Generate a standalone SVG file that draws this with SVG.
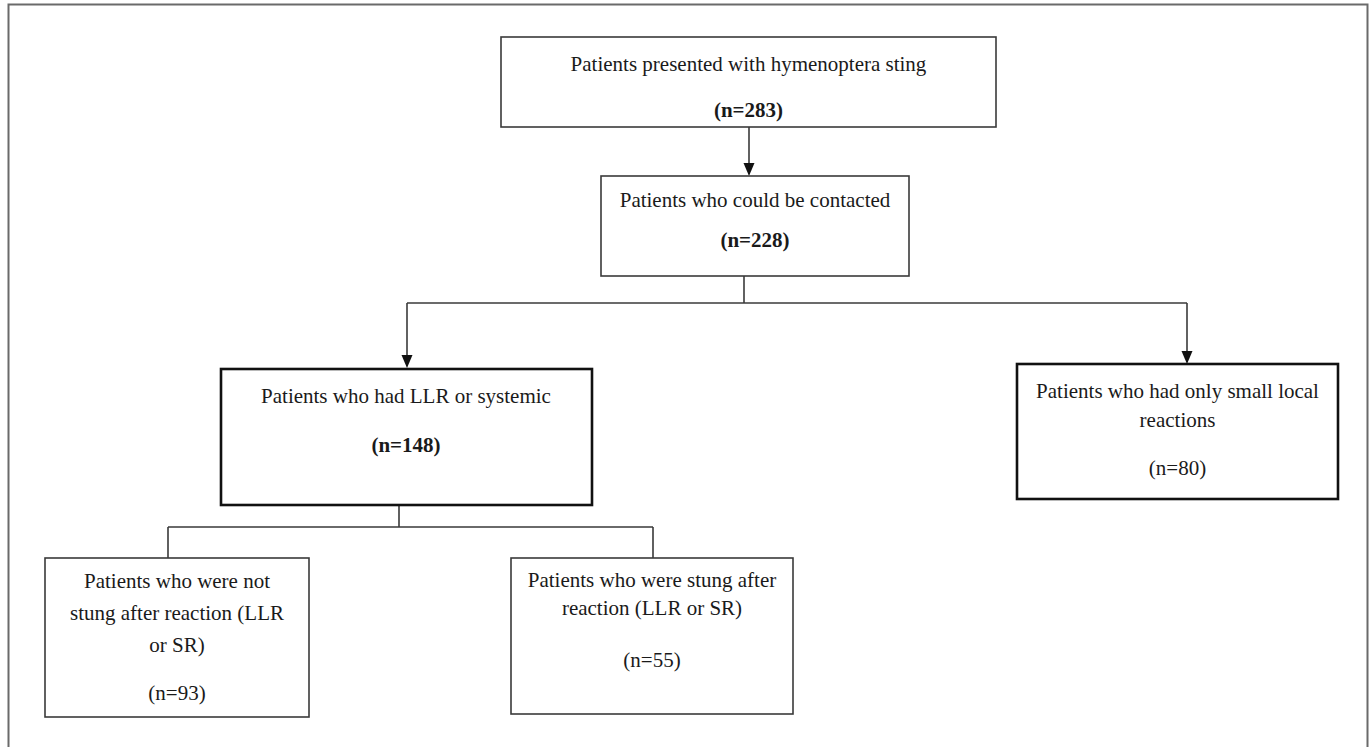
<svg xmlns="http://www.w3.org/2000/svg" width="1369" height="747" viewBox="0 0 1369 747">
<style>
  text { font-family: "Liberation Serif", "Times New Roman", serif; font-size: 21px; fill: #1a1a1a; text-anchor: middle; }
  .b { font-weight: bold; }
  .thin { fill: #ffffff; stroke: #3a3a3a; stroke-width: 1.6; }
  .thick { fill: #ffffff; stroke: #111111; stroke-width: 2.6; }
  .conn { fill: none; stroke: #3a3a3a; stroke-width: 1.6; }
  .head { fill: #111111; }
  .frame { fill: none; stroke: #6a6a6a; stroke-width: 2; }
</style>
<rect width="1369" height="747" fill="#ffffff"/>
<path class="frame" d="M8.5,747 V4.5 H1367.5 V747"/>

<g id="connectors">
  <path class="conn" d="M749,127 V164"/>
  <path class="conn" d="M744,276 V303"/>
  <path class="conn" d="M407,303 H1187"/>
  <path class="conn" d="M407,303 V356"/>
  <path class="conn" d="M1187,303 V352"/>
  <path class="conn" d="M399,505 V527 M168,527 H653 M168,527 V558 M653,527 V558"/>
  <path class="head" d="M743.5,163 L754.5,163 L749,176 Z"/>
  <path class="head" d="M401.5,355 L412.5,355 L407,368 Z"/>
  <path class="head" d="M1181.5,351 L1192.5,351 L1187,364 Z"/>
</g>

<g id="n283">
  <rect class="thin" x="501" y="37" width="495" height="90"/>
  <text x="748.5" y="71">Patients presented with hymenoptera sting</text>
  <text class="b" x="748.5" y="117">(n=283)</text>
</g>

<g id="n228">
  <rect class="thin" x="601" y="176" width="308" height="100"/>
  <text x="755" y="207">Patients who could be contacted</text>
  <text class="b" x="755" y="247">(n=228)</text>
</g>

<g id="n148">
  <rect class="thick" x="221" y="369" width="371" height="136"/>
  <text x="406" y="403">Patients who had LLR or systemic</text>
  <text class="b" x="406" y="452">(n=148)</text>
</g>

<g id="n80">
  <rect class="thick" x="1017" y="364" width="321" height="135"/>
  <text x="1177.5" y="398">Patients who had only small local</text>
  <text x="1177.5" y="427">reactions</text>
  <text x="1177.5" y="475">(n=80)</text>
</g>

<g id="n93">
  <rect class="thin" x="45" y="558" width="264" height="159"/>
  <text x="177" y="588">Patients who were not</text>
  <text x="177" y="620">stung after reaction (LLR</text>
  <text x="177" y="652">or SR)</text>
  <text x="177" y="700">(n=93)</text>
</g>

<g id="n55">
  <rect class="thin" x="511" y="558" width="282" height="156"/>
  <text x="652" y="587">Patients who were stung after</text>
  <text x="652" y="615">reaction (LLR or SR)</text>
  <text x="652" y="667">(n=55)</text>
</g>
</svg>
